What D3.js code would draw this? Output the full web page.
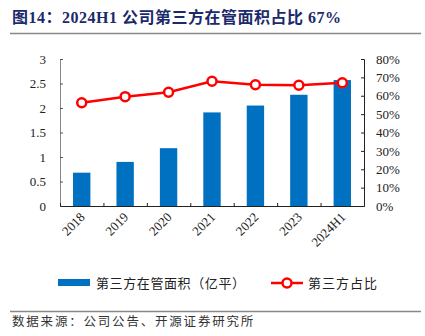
<!DOCTYPE html>
<html>
<head>
<meta charset="utf-8">
<script src="https://cdn.jsdelivr.net/npm/d3@7"></script>
<style>
  body { margin: 0; background: #fff; }
  svg { display: block; }
</style>
</head>
<body>
<svg id="chart" width="425" height="336"></svg>
<script>
// categories and series
var years = ['2018', '2019', '2020', '2021', '2022', '2023', '2024H1'];
var area = [0.68, 0.90, 1.18, 1.91, 2.05, 2.27, 2.57];     // 亿平
var share = [0.562, 0.595, 0.619, 0.679, 0.660, 0.657, 0.671];
var leftTicks = [0, 0.5, 1, 1.5, 2, 2.5, 3];
var rightTicks = [0, 0.1, 0.2, 0.3, 0.4, 0.5, 0.6, 0.7, 0.8];

var SERIF = '"Times New Roman", "Liberation Serif", serif';
var CJK = '"Noto Sans CJK SC", sans-serif';
var BLUE = '#0070c0';
var RED = '#ff0000';

var svg = d3.select('#chart');

// plot area
var X0 = 60, X1 = 364, Y0 = 59, Y1 = 206;

var x = d3.scaleBand().domain(years).range([X0, X1]).paddingInner(0.6).paddingOuter(0.3);
var xCenter = d3.scaleBand().domain(years).range([X0, X1]);
var yL = d3.scaleLinear().domain([0, 3]).range([Y1, Y0]);
var yR = d3.scaleLinear().domain([0, 0.8]).range([Y1, Y0]);

// title
svg.append('text')
  .attr('x', 12).attr('y', 23)
  .attr('fill', '#1b2a6b')
  .attr('font-family', SERIF + ', ' + CJK)
  .attr('font-weight', 'bold')
  .attr('font-size', 16)
  .attr('letter-spacing', 0.5)
  .text('图14：2024H1 公司第三方在管面积占比 67%');

svg.append('line')
  .attr('x1', 10).attr('x2', 421).attr('y1', 33.5).attr('y2', 33.5)
  .attr('stroke', '#888').attr('stroke-width', 1.5);

// bars
svg.append('g').selectAll('rect')
  .data(area)
  .join('rect')
  .attr('x', function (d, i) { return x(years[i]); })
  .attr('width', x.bandwidth())
  .attr('y', function (d) { return yL(d); })
  .attr('height', function (d) { return yL(0) - yL(d); })
  .attr('fill', BLUE);

// left axis
var gL = svg.append('g').attr('transform', 'translate(' + X0 + ',0)')
  .call(d3.axisRight(yL).tickValues(leftTicks).tickSize(3).tickFormat(d3.format('')));
gL.select('.domain').attr('stroke', '#888');
gL.selectAll('.tick line').attr('stroke', '#555');
gL.selectAll('.tick text')
  .attr('x', -14).attr('text-anchor', 'end')
  .attr('font-family', SERIF).attr('font-size', 13).attr('fill', '#222');

// right axis
var gR = svg.append('g').attr('transform', 'translate(' + X1 + ',0)')
  .call(d3.axisLeft(yR).tickValues(rightTicks).tickSize(3).tickFormat(d3.format('.0%')));
gR.select('.domain').attr('stroke', '#222');
gR.selectAll('.tick line').attr('stroke', '#222');
gR.selectAll('.tick text')
  .attr('x', 12).attr('text-anchor', 'start')
  .attr('font-family', SERIF).attr('font-size', 13).attr('fill', '#222');

// bottom axis, ticks between categories
var bounds = years.map(function (d) { return xCenter(d); }).concat([X1]);
var xb = d3.scaleLinear().domain([X0, X1]).range([X0, X1]);
var gB = svg.append('g').attr('transform', 'translate(0,' + Y1 + ')')
  .call(d3.axisTop(xb).tickValues(bounds).tickSize(3).tickSizeOuter(0).tickFormat(''));
gB.select('.domain').attr('stroke', '#222');
gB.selectAll('.tick line').attr('stroke', '#222');

svg.append('g').selectAll('text')
  .data(years)
  .join('text')
  .attr('transform', function (d) {
    return 'translate(' + (xCenter(d) + xCenter.bandwidth() / 2 + 4) + ',' + (Y1 + 12) + ') rotate(-45)';
  })
  .attr('text-anchor', 'end')
  .attr('font-family', SERIF).attr('font-size', 13).attr('fill', '#222')
  .text(function (d) { return d; });

// share line
var line = d3.line()
  .x(function (d, i) { return xCenter(years[i]) + xCenter.bandwidth() / 2; })
  .y(function (d) { return yR(d); });

svg.append('path')
  .datum(share)
  .attr('d', line)
  .attr('fill', 'none')
  .attr('stroke', RED)
  .attr('stroke-width', 2.5);

svg.append('g').selectAll('circle')
  .data(share)
  .join('circle')
  .attr('cx', function (d, i) { return xCenter(years[i]) + xCenter.bandwidth() / 2; })
  .attr('cy', function (d) { return yR(d); })
  .attr('r', 4.5)
  .attr('fill', '#fff')
  .attr('stroke', RED)
  .attr('stroke-width', 2.5);

// legend
var lg = svg.append('g');
lg.append('rect').attr('x', 58).attr('y', 279).attr('width', 32).attr('height', 7).attr('fill', BLUE);
lg.append('text').attr('x', 96).attr('y', 288)
  .attr('font-family', CJK).attr('font-size', 13).attr('letter-spacing', 0.6).attr('fill', '#222')
  .text('第三方在管面积（亿平）');
lg.append('line').attr('x1', 271).attr('x2', 303).attr('y1', 283).attr('y2', 283)
  .attr('stroke', RED).attr('stroke-width', 2.5);
lg.append('circle').attr('cx', 287).attr('cy', 283).attr('r', 4.5)
  .attr('fill', '#fff').attr('stroke', RED).attr('stroke-width', 2.5);
lg.append('text').attr('x', 308).attr('y', 288)
  .attr('font-family', CJK).attr('font-size', 13).attr('letter-spacing', 1).attr('fill', '#222')
  .text('第三方占比');

// footer
svg.append('line')
  .attr('x1', 10).attr('x2', 421).attr('y1', 311.5).attr('y2', 311.5)
  .attr('stroke', '#888').attr('stroke-width', 1.5);
svg.append('text')
  .attr('x', 12).attr('y', 326)
  .attr('font-family', CJK).attr('font-size', 12.5).attr('letter-spacing', 1.8).attr('fill', '#333')
  .text('数据来源：公司公告、开源证券研究所');
</script>
</body>
</html>
